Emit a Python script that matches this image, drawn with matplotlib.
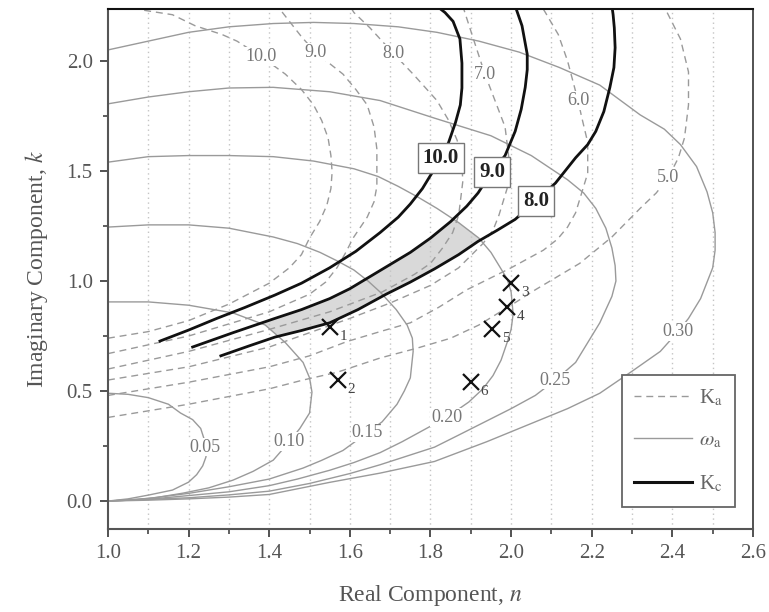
import matplotlib
matplotlib.use("Agg")
import matplotlib.pyplot as plt
import numpy as np
from matplotlib.path import Path
from matplotlib.patches import Polygon
from matplotlib.lines import Line2D

plt.rcParams['font.family'] = ['Liberation Serif', 'DejaVu Serif']
plt.rcParams['mathtext.fontset'] = 'stix'

# ---- omega_a contours (thin grey) ----
w005_n = [1.0, 1.05, 1.10, 1.15, 1.18, 1.21, 1.23, 1.245, 1.243, 1.235, 1.22, 1.20, 1.16, 1.10, 1.05, 1.0]
w005_k = [0.49, 0.485, 0.47, 0.44, 0.40, 0.37, 0.33, 0.245, 0.20, 0.16, 0.12, 0.086, 0.05, 0.027, 0.01, 0.0]
w010_n = [1.0, 1.10, 1.20, 1.31, 1.39, 1.44, 1.484, 1.50, 1.506, 1.50, 1.476, 1.45, 1.41, 1.36, 1.31, 1.25, 1.186, 1.12, 1.06, 1.0]
w010_k = [0.905, 0.905, 0.89, 0.855, 0.80, 0.72, 0.63, 0.56, 0.495, 0.40, 0.33, 0.27, 0.186, 0.135, 0.095, 0.06, 0.036, 0.016, 0.005, 0.0]
w015_n = [1.0, 1.10, 1.20, 1.30, 1.41, 1.47, 1.526, 1.57, 1.61, 1.645, 1.675, 1.715, 1.742, 1.755, 1.757, 1.75, 1.735, 1.717, 1.68, 1.643, 1.583, 1.53, 1.484, 1.40, 1.30, 1.20, 1.10, 1.0]
w015_k = [1.245, 1.255, 1.255, 1.24, 1.20, 1.17, 1.13, 1.09, 1.05, 1.0, 0.95, 0.87, 0.80, 0.74, 0.68, 0.56, 0.50, 0.44, 0.36, 0.31, 0.23, 0.185, 0.15, 0.10, 0.065, 0.035, 0.012, 0.0]
w020_n = [1.0, 1.10, 1.20, 1.30, 1.41, 1.51, 1.61, 1.67, 1.72, 1.77, 1.816, 1.87, 1.92, 1.95, 1.97, 1.99, 2.0, 2.005, 2.0, 1.99, 1.975, 1.955, 1.93, 1.895, 1.84, 1.78, 1.73, 1.675, 1.61, 1.55, 1.47, 1.40, 1.30, 1.20, 1.10, 1.0]
w020_k = [1.54, 1.565, 1.57, 1.57, 1.565, 1.545, 1.51, 1.475, 1.43, 1.38, 1.33, 1.265, 1.195, 1.13, 1.07, 1.01, 0.95, 0.85, 0.78, 0.72, 0.64, 0.57, 0.51, 0.45, 0.38, 0.32, 0.27, 0.22, 0.175, 0.14, 0.10, 0.07, 0.042, 0.025, 0.008, 0.0]
w025_n = [1.0, 1.10, 1.20, 1.30, 1.41, 1.55, 1.675, 1.81, 1.95, 2.05, 2.14, 2.18, 2.21, 2.235, 2.25, 2.258, 2.26, 2.25, 2.235, 2.22, 2.20, 2.16, 2.11, 2.06, 2.0, 1.935, 1.87, 1.81, 1.675, 1.60, 1.50, 1.40, 1.30, 1.20, 1.0]
w025_k = [1.805, 1.836, 1.86, 1.877, 1.88, 1.86, 1.82, 1.74, 1.66, 1.57, 1.46, 1.40, 1.33, 1.24, 1.15, 1.07, 1.0, 0.93, 0.87, 0.81, 0.75, 0.63, 0.55, 0.48, 0.42, 0.36, 0.30, 0.245, 0.165, 0.125, 0.08, 0.045, 0.028, 0.015, 0.0]
w030_n = [1.0, 1.10, 1.20, 1.30, 1.41, 1.51, 1.61, 1.72, 1.816, 1.92, 2.02, 2.12, 2.22, 2.32, 2.38, 2.42, 2.46, 2.486, 2.50, 2.506, 2.506, 2.50, 2.485, 2.47, 2.44, 2.414, 2.37, 2.30, 2.22, 2.14, 2.06, 1.94, 1.81, 1.675, 1.55, 1.40, 1.30, 1.20, 1.10, 1.0]
w030_k = [2.05, 2.09, 2.13, 2.155, 2.17, 2.175, 2.17, 2.155, 2.13, 2.09, 2.04, 1.97, 1.89, 1.755, 1.69, 1.62, 1.52, 1.405, 1.31, 1.22, 1.14, 1.06, 0.99, 0.92, 0.83, 0.77, 0.68, 0.59, 0.49, 0.42, 0.36, 0.27, 0.18, 0.127, 0.085, 0.03, 0.018, 0.01, 0.004, 0.0]
omega_labels = ['0.05', '0.10', '0.15', '0.20', '0.25', '0.30']
omega_lab_n = [1.24, 1.45, 1.643, 1.84, 2.11, 2.414]
omega_lab_k = [0.245, 0.27, 0.31, 0.38, 0.55, 0.77]

# ---- K_a contours (dashed grey) ----
ka10_n = [1.0, 1.1, 1.2, 1.3, 1.4, 1.45, 1.48, 1.50, 1.525, 1.543, 1.553, 1.556, 1.553, 1.546, 1.53, 1.51, 1.48, 1.44, 1.38, 1.32, 1.283, 1.216, 1.16, 1.09, 1.05]
ka10_k = [0.74, 0.77, 0.82, 0.895, 0.99, 1.06, 1.12, 1.195, 1.27, 1.345, 1.42, 1.495, 1.57, 1.65, 1.73, 1.80, 1.87, 1.94, 2.02, 2.09, 2.12, 2.16, 2.21, 2.23, 2.25]
ka9_n = [1.0, 1.2, 1.4, 1.50, 1.54, 1.568, 1.59, 1.608, 1.643, 1.66, 1.667, 1.667, 1.66, 1.643, 1.615, 1.583, 1.514, 1.48, 1.45, 1.42]
ka9_k = [0.67, 0.75, 0.86, 0.94, 0.995, 1.06, 1.13, 1.195, 1.29, 1.36, 1.43, 1.60, 1.70, 1.80, 1.87, 1.94, 2.04, 2.11, 2.18, 2.25]
ka8_n = [1.0, 1.2, 1.4, 1.55, 1.68, 1.76, 1.80, 1.83, 1.855, 1.87, 1.88, 1.878, 1.866, 1.845, 1.816, 1.757, 1.707, 1.65, 1.61, 1.60]
ka8_k = [0.60, 0.68, 0.78, 0.86, 0.95, 1.03, 1.08, 1.15, 1.22, 1.30, 1.45, 1.55, 1.64, 1.73, 1.82, 1.94, 2.036, 2.15, 2.22, 2.25]
ka7_n = [1.0, 1.2, 1.4, 1.6, 1.70, 1.80, 1.87, 1.93, 1.955, 1.97, 1.99, 1.995, 1.985, 1.96, 1.935, 1.91, 1.88]
ka7_k = [0.55, 0.61, 0.70, 0.83, 0.90, 0.98, 1.06, 1.17, 1.23, 1.30, 1.42, 1.55, 1.70, 1.82, 1.94, 2.08, 2.25]
ka6_n = [1.0, 1.2, 1.4, 1.5, 1.593, 1.675, 1.75, 1.82, 1.89, 2.0, 2.08, 2.115, 2.14, 2.16, 2.17, 2.19, 2.19, 2.175, 2.166, 2.14, 2.117, 2.085, 2.075]
ka6_k = [0.48, 0.54, 0.61, 0.66, 0.725, 0.77, 0.81, 0.88, 0.96, 1.06, 1.14, 1.19, 1.245, 1.31, 1.37, 1.49, 1.63, 1.745, 1.82, 2.0, 2.12, 2.22, 2.25]
ka5_n = [1.0, 1.2, 1.40, 1.484, 1.568, 1.675, 1.767, 1.85, 1.92, 2.0, 2.06, 2.17, 2.25, 2.32, 2.36, 2.39, 2.415, 2.43, 2.44, 2.44, 2.42, 2.387, 2.38]
ka5_k = [0.38, 0.44, 0.51, 0.55, 0.585, 0.65, 0.695, 0.74, 0.80, 0.89, 0.96, 1.08, 1.20, 1.33, 1.40, 1.47, 1.56, 1.65, 1.80, 1.95, 2.10, 2.22, 2.25]
ka_labels = ['10.0', '9.0', '8.0', '7.0', '6.0', '5.0']
ka_lab_n = [1.38, 1.514, 1.707, 1.935, 2.166, 2.39]
ka_lab_k = [2.02, 2.04, 2.036, 1.94, 1.82, 1.47]

# ---- K_c contours (thick black) ----
kc10_n = [1.129, 1.20, 1.27, 1.34, 1.414, 1.48, 1.55, 1.615, 1.675, 1.72, 1.75, 1.78, 1.80, 1.825, 1.845, 1.862, 1.874, 1.878, 1.878, 1.873, 1.856, 1.836, 1.815]
kc10_k = [0.727, 0.777, 0.83, 0.88, 0.936, 0.99, 1.06, 1.135, 1.22, 1.29, 1.35, 1.42, 1.48, 1.55, 1.63, 1.72, 1.80, 1.877, 1.99, 2.10, 2.18, 2.22, 2.25]
kc9_n = [1.21, 1.31, 1.414, 1.48, 1.55, 1.60, 1.65, 1.70, 1.75, 1.80, 1.85, 1.89, 1.918, 1.95, 1.985, 2.01, 2.025, 2.035, 2.04, 2.04, 2.027, 2.01]
kc9_k = [0.70, 0.765, 0.83, 0.87, 0.92, 0.965, 1.02, 1.075, 1.13, 1.195, 1.27, 1.34, 1.40, 1.49, 1.57, 1.68, 1.78, 1.88, 1.96, 2.03, 2.16, 2.25]
kc8_n = [1.28, 1.35, 1.414, 1.48, 1.55, 1.62, 1.69, 1.75, 1.81, 1.87, 1.918, 1.965, 2.01, 2.06, 2.11, 2.16, 2.19, 2.21, 2.23, 2.245, 2.255, 2.258, 2.256, 2.253, 2.25]
kc8_k = [0.66, 0.705, 0.745, 0.775, 0.81, 0.87, 0.94, 0.995, 1.055, 1.12, 1.18, 1.23, 1.28, 1.36, 1.445, 1.56, 1.62, 1.68, 1.77, 1.88, 1.97, 2.06, 2.15, 2.21, 2.25]
kc_labels = ['10.0', '9.0', '8.0']
kc_lab_n = [1.826, 1.953, 2.062]
kc_lab_k = [1.56, 1.495, 1.364]

# ---- measured points ----
pt_n = [1.55, 1.57, 2.0, 1.99, 1.953, 1.90]
pt_k = [0.79, 0.55, 0.99, 0.88, 0.78, 0.54]
pt_labels = ['1', '2', '3', '4', '5', '6']

grey = '#9a9a9a'
txt = '#555555'

fig = plt.figure(figsize=(7.69, 6.12), dpi=100)
ax = fig.add_axes([0.1404, 0.1356, 0.8388, 0.8497])

for xg in np.arange(1.1, 2.55, 0.1):
    ax.axvline(xg, color='#c4c4c4', lw=1.0, ls=(0, (1, 2.5)), zorder=1.5)

# shaded band: between K_c 9.0 and 8.0, outside omega 0.10, inside omega 0.20
band = np.column_stack([kc9_n + kc8_n[::-1], kc9_k + kc8_k[::-1]])
outer = np.column_stack([w020_n, w020_k])
inner = np.column_stack([w010_n, w010_k])[::-1]
clip = Path(np.vstack([outer, [outer[0]], inner, [inner[0]]]),
            [Path.MOVETO] + [Path.LINETO] * (len(outer) - 1) + [Path.CLOSEPOLY]
            + [Path.MOVETO] + [Path.LINETO] * (len(inner) - 1) + [Path.CLOSEPOLY])
poly = Polygon(band, closed=True, fc='#d9d9d9', ec='none', zorder=1)
ax.add_patch(poly)
poly.set_clip_path(clip, ax.transData)

for n, k in [(w005_n, w005_k), (w010_n, w010_k), (w015_n, w015_k),
             (w020_n, w020_k), (w025_n, w025_k), (w030_n, w030_k)]:
    ax.plot(n, k, color=grey, lw=1.0, zorder=2)

for n, k in [(ka10_n, ka10_k), (ka9_n, ka9_k), (ka8_n, ka8_k),
             (ka7_n, ka7_k), (ka6_n, ka6_k), (ka5_n, ka5_k)]:
    ax.plot(n, k, color=grey, lw=1.0, ls=(0, (5, 3.5)), zorder=2)

for n, k in [(kc10_n, kc10_k), (kc9_n, kc9_k), (kc8_n, kc8_k)]:
    ax.plot(n, k, color='#111111', lw=2.0, zorder=3, solid_joinstyle='round')

for s, n, k in zip(omega_labels, omega_lab_n, omega_lab_k):
    ax.text(n, k, s, fontsize=13, color='#777777', ha='center', va='center', zorder=4,
            bbox=dict(fc='white', ec='none', pad=0.5))
for s, n, k in zip(ka_labels, ka_lab_n, ka_lab_k):
    ax.text(n, k, s, fontsize=13, color='#777777', ha='center', va='center', zorder=4,
            bbox=dict(fc='white', ec='none', pad=0.5))
for s, n, k in zip(kc_labels, kc_lab_n, kc_lab_k):
    ax.text(n, k, s, fontsize=15, fontweight='bold', color='#222222', ha='center', va='center',
            zorder=5, bbox=dict(fc='white', ec='#777777', lw=1.0, pad=3.5))

ax.plot(pt_n, pt_k, ls='none', marker='x', ms=12, mew=1.6, color='#111111', zorder=6)
for s, n, k in zip(pt_labels, pt_n, pt_k):
    ax.annotate(s, (n, k), xytext=(7, -9), textcoords='offset points', fontsize=11,
                color='#444444', zorder=6)

ax.set_xlim(1.0, 2.6)
ax.set_ylim(-0.127, 2.236)
ax.set_xticks(np.arange(1.0, 2.61, 0.2))
ax.set_xticks(np.arange(1.1, 2.6, 0.2), minor=True)
ax.set_yticks([0.0, 0.5, 1.0, 1.5, 2.0])
ax.set_yticks([0.25, 0.75, 1.25, 1.75], minor=True)
ax.xaxis.set_major_formatter(matplotlib.ticker.FormatStrFormatter('%.1f'))
ax.yaxis.set_major_formatter(matplotlib.ticker.FormatStrFormatter('%.1f'))
ax.tick_params(which='major', direction='out', length=6, width=1.3, color='#444444',
               labelsize=15, labelcolor=txt, pad=5)
ax.tick_params(which='minor', direction='out', length=3.5, width=1.2, color='#444444')
for side in ['left', 'bottom']:
    ax.spines[side].set_color('#555555')
    ax.spines[side].set_linewidth(1.5)
ax.spines['top'].set_color('#111111')
ax.spines['top'].set_linewidth(1.5)
ax.spines['right'].set_color('#444444')
ax.spines['right'].set_linewidth(1.3)

ax.set_xlabel('Real Component, $n$', fontsize=17, color=txt, labelpad=14)
ax.set_ylabel('Imaginary Component, $k$', fontsize=17, color=txt, labelpad=12)

handles = [Line2D([], [], color=grey, lw=1.0, ls=(0, (5, 3.5))),
           Line2D([], [], color=grey, lw=1.0),
           Line2D([], [], color='#111111', lw=2.2)]
leg = ax.legend(handles, [r'K$_\mathrm{a}$', r'$\omega_\mathrm{a}$', r'K$_\mathrm{c}$'],
                loc='lower right', bbox_to_anchor=(0.988, 0.023), fontsize=15,
                handlelength=2.8, handletextpad=0.3, borderpad=0.6, labelspacing=1.1,
                fancybox=False, framealpha=1, edgecolor='#666666')
for t in leg.get_texts():
    t.set_color('#666666')
leg.get_frame().set_linewidth(1.3)

fig.savefig('out.png', dpi=100)
